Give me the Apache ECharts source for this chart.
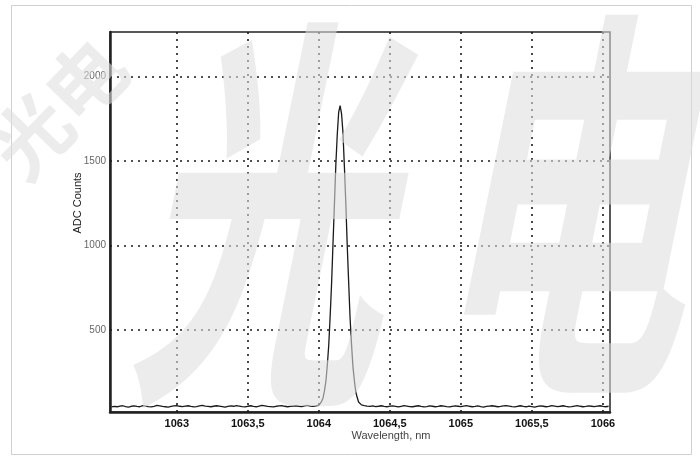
<!DOCTYPE html>
<html>
<head>
<meta charset="utf-8">
<script src="https://cdn.jsdelivr.net/npm/echarts@6/dist/echarts.min.js"></script>
<style>
  html, body { margin: 0; padding: 0; background: #fff; }
  #chart { width: 700px; height: 457px; }
</style>
</head>
<body>
<div id="chart"></div>
<script>
// Spectrum sampling: coarse baseline on both sides, fine sampling across the laser line
const baseStep = 0.02;
const leftStart = 1062.54;   // first baseline sample
const rightStart = 1064.32;  // first baseline sample after the line

// ADC counts, baseline left of the line (1062.54 .. 1063.98)
const leftCounts = [
  44,47,45,49,51,46,43,48,50,47,
  45,52,49,46,44,48,53,50,47,45,
  43,47,50,52,48,46,49,51,47,44,
  46,50,53,49,47,45,48,51,49,46,
  43,47,50,48,52,49,46,44,48,51,
  47,45,49,53,50,47,46,44,48,50,
  52,48,45,47,49,51,48,46,50,53,
  49,47,50
];

// Laser line, 1064.00 .. 1064.30 nm in 0.01 nm steps
const lineWave = [
  1064.00,1064.01,1064.02,1064.03,1064.04,1064.05,1064.06,1064.07,1064.08,1064.09,
  1064.10,1064.11,1064.12,1064.13,1064.14,1064.15,1064.16,1064.17,1064.18,1064.19,
  1064.20,1064.21,1064.22,1064.23,1064.24,1064.25,1064.26,1064.27,1064.28,1064.29,
  1064.30
];
const lineCounts = [
  54,61,77,97,140,196,292,411,583,776,
  1014,1245,1480,1659,1790,1828,1781,1668,1470,1254,
  1003,785,574,419,286,202,134,101,73,63,
  56
];

// ADC counts, baseline right of the line (1064.32 .. 1066.04)
const rightCounts = [
  52,49,47,50,46,48,51,47,45,49,
  50,47,44,48,52,49,46,45,48,51,
  47,44,46,50,48,45,47,51,49,46,
  44,47,50,48,46,49,52,48,45,47,
  50,46,43,47,49,51,48,45,47,50,
  52,49,46,44,48,51,47,45,49,46,
  43,47,50,48,45,47,52,49,46,48,
  51,47,44,46,49,52,48,45,47,50,
  48,46,49,51,47,45,48
];

// Axis ticks
const xTicks = [1063, 1063.5, 1064, 1064.5, 1065, 1065.5, 1066];
const yTicks = [500, 1000, 1500, 2000];
const xRange = [1062.53, 1066.05];
const yRange = [14, 2264];

const spectrum = [];
leftCounts.forEach((c, i) => spectrum.push([+(leftStart + i * baseStep).toFixed(2), c]));
lineWave.forEach((w, i) => spectrum.push([w, lineCounts[i]]));
rightCounts.forEach((c, i) => spectrum.push([+(rightStart + i * baseStep).toFixed(2), c]));

const gridDots = { type: [2, 5], color: '#1a1a1a', width: 1.6 };
const gridLines = xTicks.map(v => ({ xAxis: v })).concat(yTicks.map(v => ({ yAxis: v })));

const mark = 'rgba(222,222,222,0.58)';

const chart = echarts.init(document.getElementById('chart'), null, { renderer: 'canvas' });
chart.setOption({
  animation: false,
  backgroundColor: '#fff',
  grid: {
    left: 110, right: 90, top: 32, bottom: 45,
    show: true, borderColor: '#222', borderWidth: 1.5, backgroundColor: 'transparent'
  },
  xAxis: {
    type: 'value', min: xRange[0], max: xRange[1],
    axisLine: { show: true, onZero: false, lineStyle: { color: '#222', width: 2.5 } },
    axisTick: { show: false },
    splitLine: { show: false },
    axisLabel: {
      customValues: xTicks,
      margin: 6,
      color: '#111', fontSize: 11, fontWeight: 'bold', fontFamily: 'Liberation Sans, Arial',
      formatter: v => String(v).replace('.', ',')
    }
  },
  yAxis: {
    type: 'value', min: yRange[0], max: yRange[1],
    axisLine: { show: true, onZero: false, lineStyle: { color: '#222', width: 2.5 } },
    axisTick: { show: false },
    splitLine: { show: false },
    axisLabel: {
      customValues: yTicks,
      margin: 4,
      color: '#666', fontSize: 10, fontFamily: 'Liberation Sans, Arial',
      formatter: v => String(v)
    }
  },
  series: [{
    type: 'line',
    data: spectrum,
    showSymbol: false,
    lineStyle: { color: '#1a1a1a', width: 1.3 },
    markLine: {
      silent: true, symbol: 'none', animation: false,
      label: { show: false },
      lineStyle: gridDots,
      data: gridLines
    }
  }],
  graphic: [
    { type: 'rect', z: 0, silent: true,
      shape: { x: 11.5, y: 5.5, width: 680, height: 449 },
      style: { fill: 'none', stroke: '#d0d0d0', lineWidth: 1 } },
    { type: 'text', z: 10, x: 391, y: 436, silent: true,
      style: { text: 'Wavelength, nm', fill: '#444', font: '11px "Liberation Sans", Arial',
               align: 'center', verticalAlign: 'middle' } },
    { type: 'text', z: 10, x: 78, y: 203, rotation: Math.PI / 2, silent: true,
      style: { text: 'ADC Counts', fill: '#222', font: '11px "Liberation Sans", Arial',
               align: 'center', verticalAlign: 'middle' } },
    // large overlay lettering
    { type: 'text', z: 200, x: 285, y: 215, scaleX: 0.62, skewX: -0.2, silent: true,
      style: { text: '光', fill: mark, font: 'bold 410px "Noto Sans CJK SC"',
               align: 'center', verticalAlign: 'middle' } },
    { type: 'text', z: 200, x: 585, y: 205, scaleX: 0.62, skewX: -0.2, silent: true,
      style: { text: '电', fill: mark, font: 'bold 410px "Noto Sans CJK SC"',
               align: 'center', verticalAlign: 'middle' } },
    { type: 'text', z: 200, x: 58, y: 108, rotation: 0.8, silent: true,
      style: { text: '光电', fill: mark, font: 'bold 78px "Noto Sans CJK SC"',
               align: 'center', verticalAlign: 'middle' } }
  ]
});
</script>
</body>
</html>
